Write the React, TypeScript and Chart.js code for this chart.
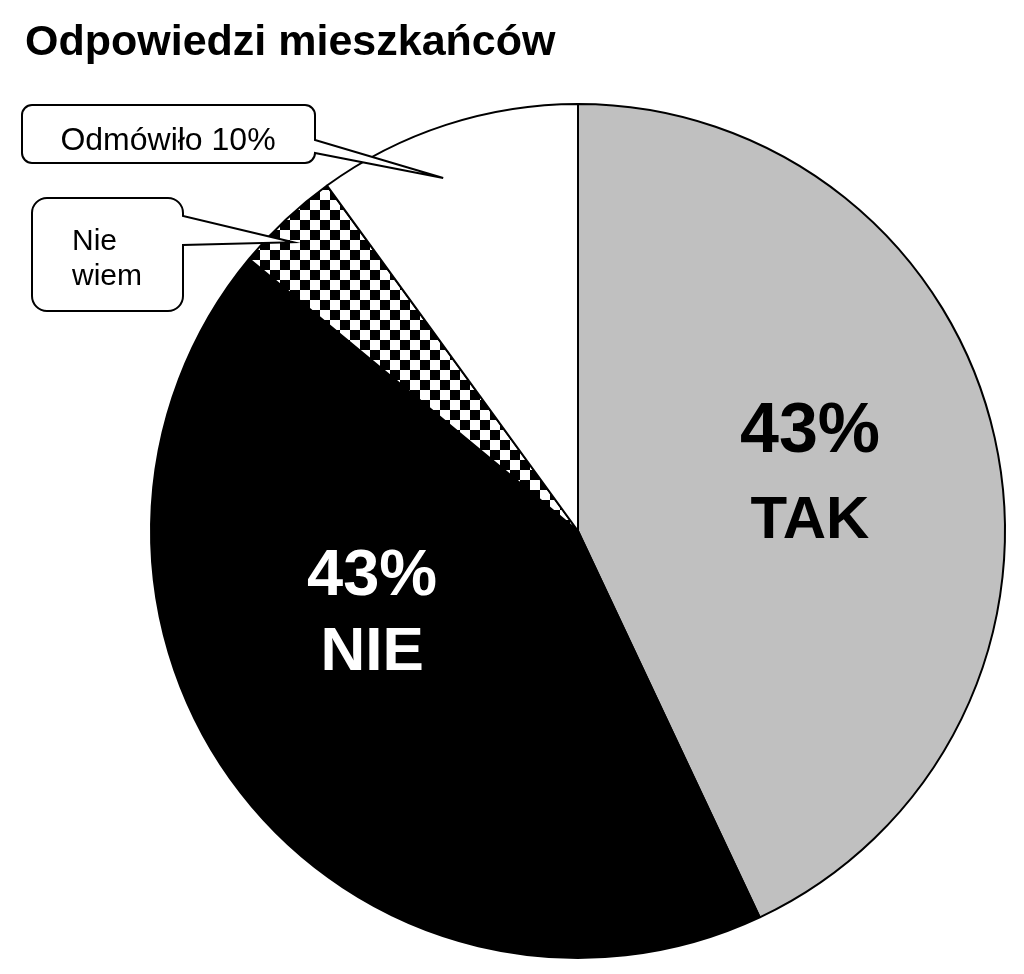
import { useEffect, useRef } from "react";
import { Chart, registerables } from "chart.js";

Chart.register(...registerables);

// ---- data ----
const categories = ["TAK", "NIE", "Nie wiem", "Odmówiło"];
const values = [43, 43, 4, 10];
const percentLabels = ["43%", "43%", "", ""];
const chartTitle = "Odpowiedzi mieszkańców";
const calloutLines = [["Odmówiło 10%"], ["Nie", "wiem"]];

// ---- styles ----
const FONT = "'Liberation Sans', Arial, Helvetica, sans-serif";
const DEG = Math.PI / 180;

// in-slice labels: anchor = first-line baseline, placed from arc geometry
const inLabelStyle: Record<number, any> = {
  0: { frac: 0.574, dAng: -6.2, color: "#000", size1: 70, size2: 60, gap: 86 },
  1: { frac: 0.505, dAng: 20.5, color: "#fff", size1: 65, size2: 62, gap: 75 },
};

// callouts: box geometry (annotation), tip computed from the slice arc
const calloutStyle = [
  { slice: 3, frac: 0.885, dAng: -2.9, x: 22, y: 105, w: 293, h: 58, r: 10, wy1: 140, wy2: 153, size: 32, align: "center", tx: 168, baselines: [150] },
  { slice: 2, frac: 0.95, dAng: -1.4, x: 32, y: 198, w: 151, h: 113, r: 15, wy1: 216, wy2: 245, size: 30, align: "left", tx: 72, baselines: [250, 285] },
];

function calloutPath(ctx: CanvasRenderingContext2D, c: any, tipX: number, tipY: number) {
  const { x, y, w, h, r, wy1, wy2 } = c;
  ctx.beginPath();
  ctx.moveTo(x + r, y);
  ctx.lineTo(x + w - r, y);
  ctx.arcTo(x + w, y, x + w, y + r, r);
  ctx.lineTo(x + w, wy1);
  ctx.lineTo(tipX, tipY);
  ctx.lineTo(x + w, wy2);
  ctx.lineTo(x + w, y + h - r);
  ctx.arcTo(x + w, y + h, x + w - r, y + h, r);
  ctx.lineTo(x + r, y + h);
  ctx.arcTo(x, y + h, x, y + h - r, r);
  ctx.lineTo(x, y + r);
  ctx.arcTo(x, y, x + r, y, r);
  ctx.closePath();
}

export default function App() {
  const ref = useRef<HTMLCanvasElement>(null);

  useEffect(() => {
    const canvas = ref.current!;
    const tile = document.createElement("canvas");
    tile.width = 20;
    tile.height = 20;
    const t = tile.getContext("2d")!;
    t.fillStyle = "#fff";
    t.fillRect(0, 0, 20, 20);
    t.fillStyle = "#000";
    t.fillRect(0, 0, 10, 10);
    t.fillRect(10, 10, 10, 10);
    const ctx0 = canvas.getContext("2d")!;
    const checker = ctx0.createPattern(tile, "repeat");

    const overlay = {
      id: "overlay",
      afterDraw(chart: any) {
        const ctx: CanvasRenderingContext2D = chart.ctx;
        const meta = chart.getDatasetMeta(0);
        ctx.save();
        // title
        ctx.fillStyle = "#000";
        ctx.font = `bold 43px ${FONT}`;
        ctx.textAlign = "left";
        ctx.textBaseline = "alphabetic";
        ctx.fillText(chartTitle, 25, 55);

        // in-slice labels
        meta.data.forEach((arc: any, i: number) => {
          const st = inLabelStyle[i];
          if (!st) return;
          const p = arc.getProps(["x", "y", "startAngle", "endAngle", "outerRadius"], true);
          const a = (p.startAngle + p.endAngle) / 2 + st.dAng * DEG;
          const ax = p.x + Math.cos(a) * p.outerRadius * st.frac;
          const ay = p.y + Math.sin(a) * p.outerRadius * st.frac;
          ctx.fillStyle = st.color;
          ctx.textAlign = "center";
          ctx.font = `bold ${st.size1}px ${FONT}`;
          ctx.fillText(percentLabels[i], ax, ay);
          ctx.font = `bold ${st.size2}px ${FONT}`;
          ctx.fillText(categories[i], ax, ay + st.gap);
        });

        // callouts
        calloutStyle.forEach((c, k) => {
          const arc = meta.data[c.slice];
          const p = arc.getProps(["x", "y", "startAngle", "endAngle", "outerRadius"], true);
          const a = (p.startAngle + p.endAngle) / 2 + c.dAng * DEG;
          const tipX = p.x + Math.cos(a) * p.outerRadius * c.frac;
          const tipY = p.y + Math.sin(a) * p.outerRadius * c.frac;
          calloutPath(ctx, c, tipX, tipY);
          ctx.fillStyle = "#fff";
          ctx.fill();
          ctx.lineWidth = 2;
          ctx.strokeStyle = "#000";
          ctx.lineJoin = "miter";
          ctx.stroke();
          ctx.fillStyle = "#000";
          ctx.font = `${c.size}px ${FONT}`;
          ctx.textAlign = c.align as CanvasTextAlign;
          calloutLines[k].forEach((line, j) => {
            ctx.fillText(line, c.tx, c.baselines[j]);
          });
        });
        ctx.restore();
      },
    };

    const chart = new Chart(canvas, {
      type: "pie",
      data: {
        labels: categories,
        datasets: [
          {
            data: values,
            backgroundColor: ["#c0c0c0", "#000000", checker as any, "#ffffff"],
            borderColor: "#000000",
            borderWidth: 2,
          },
        ],
      },
      options: {
        responsive: false,
        animation: false,
        devicePixelRatio: 1,
        layout: { padding: { left: 150, right: 18, top: 103, bottom: 15 } },
        plugins: {
          legend: { display: false },
          tooltip: { enabled: false },
          title: { display: false },
        },
      },
      plugins: [overlay],
    });
    return () => chart.destroy();
  }, []);

  return (
    <div style={{ position: "fixed", left: 0, top: 0, width: 1024, height: 974, background: "#fff" }}>
      <canvas ref={ref} width={1024} height={974} style={{ display: "block", width: 1024, height: 974 }} />
    </div>
  );
}
